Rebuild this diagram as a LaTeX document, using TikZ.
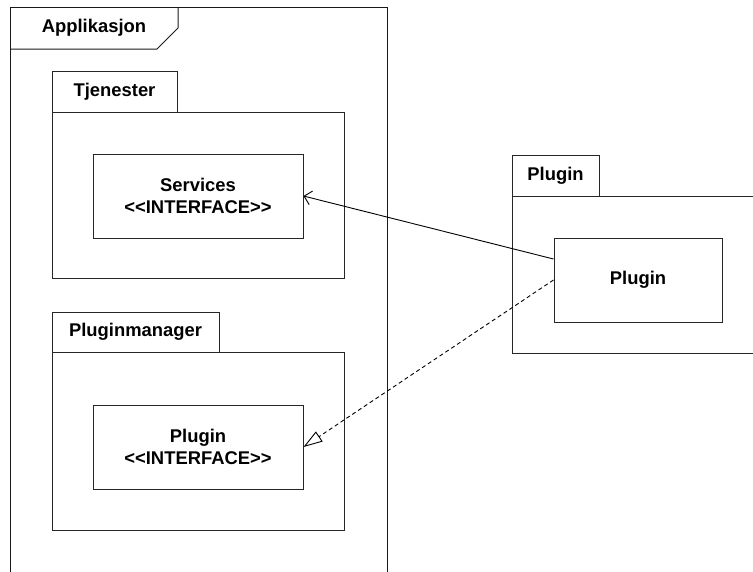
\documentclass[tikz,border=0pt]{standalone}
\usepackage{fontspec}
\setmainfont{Liberation Sans}
\usetikzlibrary{arrows.meta,calc}
\tikzset{
  lbl/.style={font=\fontsize{18.4}{21.7}\selectfont\bfseries},
  box/.style={draw=black!85, line width=1pt, inner sep=0pt, align=center, lbl},
  pkgtab/.style={box},
  pkgbody/.style={box},
  frm/.style={draw=black!90, line width=1pt},
  usesarrow/.style={draw=black, line width=0.9pt, -{Straight Barb[length=7pt,width=14pt,line width=0.9pt]}},
  implarrow/.style={draw=black, line width=0.9pt, dash pattern=on 4pt off 3pt, -{Triangle[open,length=19pt,width=12pt,line width=0.9pt]}}
}
\begin{document}
\begin{tikzpicture}[x=1pt,y=-1pt]
\useasboundingbox (0,0) rectangle (753,571);
% Applikasjon frame
\draw[frm] (10,600) -- (10,7) -- (387,7) -- (387,600);
\draw[frm] (10,49) -- (157,49) -- (178,28) -- (178,7);
\node[lbl] (applbl) at (94,28) {Applikasjon};
% Tjenester package
\node[pkgbody, minimum width=292pt, minimum height=166pt] (tjbody) at (198,195) {};
\node[pkgtab, minimum width=125pt, minimum height=41pt] (tjtab) at (114.5,91.5) {Tjenester};
\node[box, minimum width=210pt, minimum height=84pt] (services) at (198,196) {Services\\{<}{<}INTERFACE{>}{>}};
% Pluginmanager package
\node[pkgbody, minimum width=292pt, minimum height=178pt] (pmbody) at (198,441) {};
\node[pkgtab, minimum width=167pt, minimum height=40pt] (pmtab) at (135.5,332) {Pluginmanager};
\node[box, minimum width=210pt, minimum height=84pt] (pluginif) at (198,447) {Plugin\\{<}{<}INTERFACE{>}{>}};
% Plugin package
\node[pkgbody, minimum width=288pt, minimum height=157pt] (plbody) at (656,274.5) {};
\node[pkgtab, minimum width=87pt, minimum height=41pt] (pltab) at (555.5,175.5) {Plugin};
\node[box, minimum width=168pt, minimum height=84pt] (plugin) at (638,280) {Plugin};
% connectors
\draw[usesarrow] ([yshift=21pt]plugin.west) -- (services.east);
\draw[implarrow] (plugin.west) -- (pluginif.east);
\end{tikzpicture}
\end{document}
